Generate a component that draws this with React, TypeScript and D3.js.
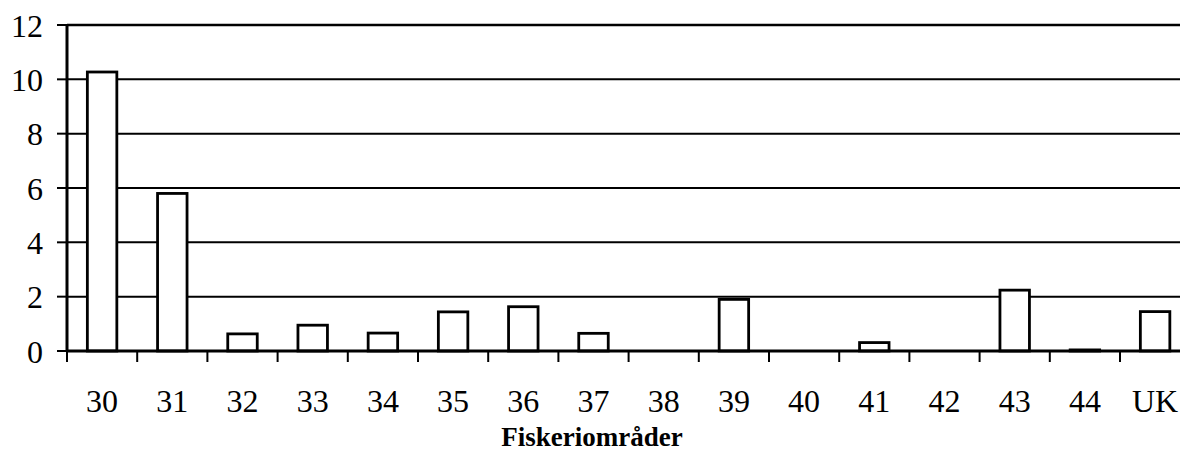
import React from "react";
import { scaleBand, scaleLinear, range } from "d3";

const categories = ["30", "31", "32", "33", "34", "35", "36", "37", "38", "39", "40", "41", "42", "43", "44", "UK"];
const values = [10.27, 5.8, 0.63, 0.95, 0.66, 1.44, 1.63, 0.65, 0, 1.9, 0, 0.31, 0, 2.24, 0.04, 1.45];
const yTicks = [0, 2, 4, 6, 8, 10, 12];
const xTitle = "Fiskeriområder";

const width = 1180;
const height = 453;
const left = 67;
const top = 25;
const bottom = 351;

export default function App() {
  // the plot runs a bit past the right edge, like the scan
  const x = scaleBand<string>().domain(categories).range([left, left + 70.2 * categories.length]).paddingInner(0.58).paddingOuter(0.29);
  const band = scaleBand<string>().domain(categories).range([left, left + 70.2 * categories.length]);
  const y = scaleLinear().domain([0, 12]).range([bottom, top]);
  const font = "'Liberation Serif', 'Times New Roman', serif";

  return (
    <svg width={width} height={height} style={{ position: "absolute", left: 0, top: 0, background: "#fff" }}>
      {/* gridlines */}
      {yTicks.filter((t) => t > 0).map((t) => (
        <line key={t} x1={left} x2={width} y1={y(t)} y2={y(t)} stroke="#000" strokeWidth={t === 12 ? 2.5 : 2} />
      ))}

      {/* bars */}
      {categories.map((c, i) => (
        <rect
          key={c}
          x={x(c)}
          y={y(values[i])}
          width={x.bandwidth()}
          height={bottom - y(values[i])}
          fill="#fff"
          stroke="#000"
          strokeWidth={2.8}
        />
      ))}

      {/* axes */}
      <line x1={left} x2={left} y1={top - 1} y2={bottom + 1} stroke="#000" strokeWidth={3} />
      <line x1={left} x2={width} y1={bottom} y2={bottom} stroke="#000" strokeWidth={3} />

      {/* y ticks */}
      {yTicks.map((t) => (
        <g key={t}>
          <line x1={left - 10} x2={left} y1={y(t)} y2={y(t)} stroke="#000" strokeWidth={2} />
          <text x={43} y={y(t)} dy="0.36em" textAnchor="end" fontFamily={font} fontSize={32}>
            {t}
          </text>
        </g>
      ))}

      {/* x ticks */}
      {range(categories.length + 1).map((k) => (
        <line key={k} x1={left + 70.2 * k} x2={left + 70.2 * k} y1={bottom} y2={bottom + 11} stroke="#000" strokeWidth={2} />
      ))}
      {categories.map((c) => (
        <text key={c} x={(band(c) ?? 0) + band.bandwidth() / 2} y={412} textAnchor="middle" fontFamily={font} fontSize={32}>
          {c}
        </text>
      ))}

      <text x={592} y={446} textAnchor="middle" fontFamily={font} fontSize={27} fontWeight="bold">
        {xTitle}
      </text>
    </svg>
  );
}
